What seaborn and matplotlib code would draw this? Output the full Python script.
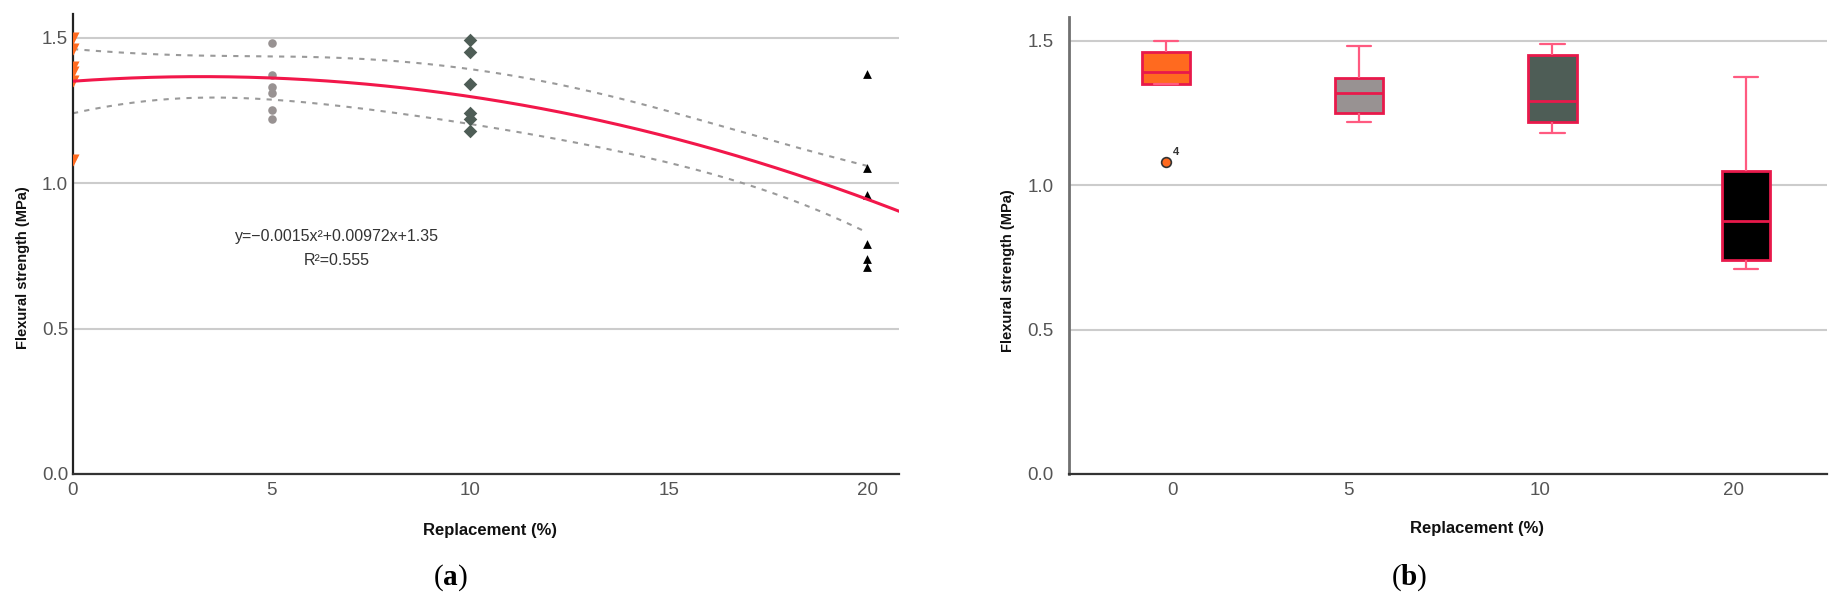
import numpy as np
import pandas as pd
import matplotlib
matplotlib.use("Agg")
import matplotlib as mpl
import matplotlib.pyplot as plt
from matplotlib.transforms import ScaledTranslation
import seaborn as sns

# ---------------- data ----------------
replacement_levels = [0, 5, 10, 20]
strength_0 = [1.08, 1.35, 1.38, 1.40, 1.46, 1.50]
strength_5 = [1.22, 1.25, 1.31, 1.33, 1.37, 1.48]
strength_10 = [1.18, 1.22, 1.24, 1.34, 1.45, 1.49]
strength_20 = [0.71, 0.74, 0.79, 0.96, 1.05, 1.375]
fit_coefs = [-0.0015, 0.00972, 1.35]
fit_r2 = 0.555
x_ticks_a = [0, 5, 10, 15, 20]
y_ticks = [0.0, 0.5, 1.0, 1.5]
outlier_label = "4"
eq_text = "y=\u22120.0015x\u00b2+0.00972x+1.35"
r2_text = "R\u00b2=0.555"
band_t = 1.72

group_colors = ["#FF6A1F", "#989292", "#4E5D56", "#000000"]
group_markers = ["v", "o", "D", "^"]
group_sizes = [75, 38, 48, 40]

groups = [strength_0, strength_5, strength_10, strength_20]
df = pd.DataFrame({
    "rep": np.concatenate([[lvl] * len(g) for lvl, g in zip(replacement_levels, groups)]),
    "strength": np.concatenate(groups),
})

# Tukey hinges (SPSS style) for the box statistics
_orig_stats = mpl.cbook.boxplot_stats


def tukey_boxplot_stats(X, whis=1.5, bootstrap=None, labels=None, autorange=False):
    stats = _orig_stats(X, whis=whis, bootstrap=bootstrap, labels=labels, autorange=autorange)
    arrs = [np.asarray(X, float)] if np.ndim(X) == 1 else [np.asarray(x, float) for x in X]
    for st, x in zip(stats, arrs):
        x = np.sort(x[np.isfinite(x)])
        n = len(x)
        q1 = np.median(x[:(n + 1) // 2])
        q3 = np.median(x[n // 2:])
        iqr = q3 - q1
        lo, hi = q1 - whis * iqr, q3 + whis * iqr
        inside = x[(x >= lo) & (x <= hi)]
        st.update(q1=q1, q3=q3, iqr=iqr, whislo=inside.min(), whishi=inside.max(),
                  fliers=x[(x < lo) | (x > hi)])
    return stats


mpl.cbook.boxplot_stats = tukey_boxplot_stats

# ---------------- style ----------------
sns.set_theme(style="white")
plt.rcParams["font.family"] = ["Liberation Sans", "DejaVu Sans"]
plt.rcParams["mathtext.fontset"] = "custom"
plt.rcParams["mathtext.rm"] = "Liberation Serif"
plt.rcParams["mathtext.bf"] = "Liberation Serif:bold"

fig = plt.figure(figsize=(18.39, 6.11), dpi=100)
axA = fig.add_axes([73 / 1839, 137 / 611, 826 / 1839, 460 / 611])
axB = fig.add_axes([1069 / 1839, 137 / 611, 758 / 1839, 457.3 / 611])

pal = dict(zip(replacement_levels, group_colors))

# ---------------- panel (a) ----------------
for lvl, c, m, s in zip(replacement_levels, group_colors, group_markers, group_sizes):
    sub = df[df.rep == lvl]
    sns.scatterplot(data=sub, x="rep", y="strength", color=c, marker=m, s=s,
                    linewidth=0, legend=False, ax=axA, zorder=3)

xx = np.linspace(0, 21, 300)
sns.lineplot(x=xx, y=np.polyval(fit_coefs, xx), color="#F2174A", linewidth=2.2,
             ax=axA, zorder=4)

# confidence band of the mean for the quadratic fit
Xd = np.vander(df.rep.values.astype(float), 3)
resid = df.strength.values - Xd @ np.array(fit_coefs)
n = len(resid)
s2 = resid @ resid / (n - 3)
cov = s2 * np.linalg.inv(Xd.T @ Xd)
xc = np.linspace(0, 20, 200)
Xc = np.vander(xc, 3)
se = np.sqrt(np.einsum("ij,jk,ik->i", Xc, cov, Xc))
yc = np.polyval(fit_coefs, xc)
for band in (yc + band_t * se, yc - band_t * se):
    sns.lineplot(x=xc, y=band, color="#9A9A9A", linewidth=1.5, ax=axA, zorder=2)
for line in axA.lines[1:]:
    line.set_linestyle((0, (2.5, 3)))

axA.text(6.65, 0.815, eq_text, ha="center", va="center", fontsize=11.5, color="#333333")
axA.text(6.65, 0.733, r2_text, ha="center", va="center", fontsize=11.5, color="#333333")

axA.set_xlim(0, 20.8)
axA.set_ylim(0, 1.581)
axA.set_xticks(x_ticks_a)
axA.set_xticklabels([str(v) for v in x_ticks_a])
axA.set_yticks(y_ticks)
axA.set_yticklabels([f"{v:.1f}" for v in y_ticks])

# ---------------- panel (b) ----------------
sns.boxplot(data=df, x="rep", y="strength", hue="rep", order=replacement_levels,
            hue_order=replacement_levels, palette=pal, saturation=1, legend=False, dodge=False,
            width=0.25, linecolor="#E8194B", linewidth=2, ax=axB,
            whiskerprops=dict(color="#FF5A80", linewidth=1.6),
            capprops=dict(color="#FF5A80", linewidth=1.6),
            medianprops=dict(color="#E8194B", linewidth=2),
            flierprops=dict(marker="o", markerfacecolor=group_colors[0],
                            markeredgecolor="#333333", markersize=7, markeredgewidth=1.2))
axB.annotate(outlier_label, xy=(0, min(strength_0)), xytext=(5, 5), textcoords="offset points",
             fontsize=8, fontweight="bold", color="#333333")
axB.set_xlim(-0.5, 3.42)
axB.set_ylim(0, 1.583)
axB.set_yticks(y_ticks)
axB.set_yticklabels([f"{v:.1f}" for v in y_ticks])
axB.set_xticks(range(len(replacement_levels)))
axB.set_xticklabels([str(v) for v in replacement_levels])

# ---------------- common styling ----------------
for ax, pad_y in ((axA, 3.5), (axB, 11)):
    ax.set_axisbelow(True)
    ax.grid(axis="y", color="#CCCCCC", linewidth=1.5)
    ax.grid(axis="x", visible=False)
    for side in ("top", "right"):
        ax.spines[side].set_visible(False)
    ax.spines["bottom"].set_color("#333333")
    ax.spines["bottom"].set_linewidth(1.6)
    ax.tick_params(axis="y", length=0, pad=pad_y, labelsize=13.5, labelcolor="#555555")
    ax.tick_params(axis="x", length=0, pad=6, labelsize=13.5, labelcolor="#555555")
    ax.set_xlabel("Replacement (%)", fontsize=12, fontweight="bold", color="#111111")
    ax.set_ylabel("Flexural strength (MPa)", fontsize=10.5, fontweight="bold", color="#111111")
    ax.xaxis.label.set_va("center")
    ax.yaxis.label.set_va("center")

axA.spines["left"].set_color("#222222")
axA.spines["left"].set_linewidth(1.6)
axB.spines["left"].set_color("#707070")
axB.spines["left"].set_linewidth(2)

axA.xaxis.set_label_coords(0.505, -0.122)
axA.yaxis.set_label_coords(-0.061, 0.449)
axB.xaxis.set_label_coords(0.538, -0.120)
axB.yaxis.set_label_coords(-0.0805, 0.444)

for lbl, dx in zip(axB.get_xticklabels(), [0.07, -0.11, -0.12, -0.12]):
    lbl.set_transform(lbl.get_transform() + ScaledTranslation(dx, 0, fig.dpi_scale_trans))

fig.text(450 / 1839, 1 - 578 / 611, r"($\mathbf{a}$)", ha="center", va="center",
         fontsize=21, family="Liberation Serif", color="black")
fig.text(1409 / 1839, 1 - 578 / 611, r"($\mathbf{b}$)", ha="center", va="center",
         fontsize=21, family="Liberation Serif", color="black")

fig.savefig("out.png", dpi=100, facecolor="white")
